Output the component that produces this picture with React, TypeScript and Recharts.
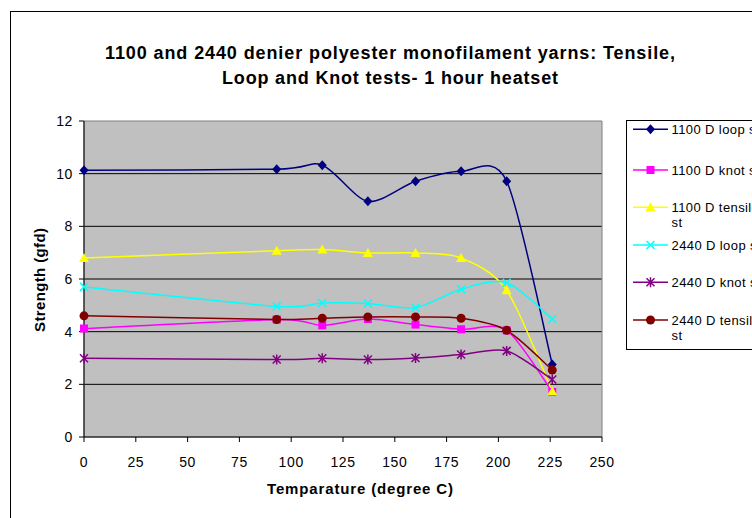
import React from "react";
import {
  CartesianGrid,
  Line,
  LineChart,
  ReferenceArea,
  XAxis,
  YAxis,
} from "recharts";

const temps = [0, 93, 115, 137, 160, 182, 204, 226];
const loop1100 = [10.13, 10.17, 10.32, 8.95, 9.71, 10.09, 9.71, 2.75];
const knot1100 = [4.12, 4.46, 4.24, 4.48, 4.27, 4.09, 4.05, 1.71];
const tensile1100 = [6.8, 7.07, 7.12, 6.99, 6.99, 6.8, 5.57, 1.74];
const loop2440 = [5.7, 4.96, 5.09, 5.07, 4.91, 5.61, 5.86, 4.48];
const knot2440 = [2.99, 2.94, 2.99, 2.94, 3.0, 3.13, 3.27, 2.18];
const tensile2440 = [4.6, 4.46, 4.51, 4.56, 4.56, 4.51, 4.05, 2.54];

const xTicks = [0, 25, 50, 75, 100, 125, 150, 175, 200, 225, 250];
const yTicks = [0, 2, 4, 6, 8, 10, 12];

const FONT = "'Liberation Sans', Arial, sans-serif";

type Shape = "diamond" | "square" | "triangle" | "cross" | "star" | "circle";

const series: { key: string; name: string[]; color: string; shape: Shape }[] = [
  { key: "loop1100", name: ["1100 D loop st"], color: "#000080", shape: "diamond" },
  { key: "knot1100", name: ["1100 D knot st"], color: "#FF00FF", shape: "square" },
  { key: "tensile1100", name: ["1100 D tensile", "st"], color: "#FFFF00", shape: "triangle" },
  { key: "loop2440", name: ["2440 D loop st"], color: "#00FFFF", shape: "cross" },
  { key: "knot2440", name: ["2440 D knot st"], color: "#800080", shape: "star" },
  { key: "tensile2440", name: ["2440 D tensile", "st"], color: "#800000", shape: "circle" },
];

const data = temps.map((t, i) => ({
  temp: t,
  loop1100: loop1100[i],
  knot1100: knot1100[i],
  tensile1100: tensile1100[i],
  loop2440: loop2440[i],
  knot2440: knot2440[i],
  tensile2440: tensile2440[i],
}));

// excel-like smoothed line (cardinal style bezier)
function smoothCurve(context: any) {
  let pts: number[][] = [];
  const k = 1 / 7;
  return {
    areaStart() {},
    areaEnd() {},
    lineStart() {
      pts = [];
    },
    point(x: number, y: number) {
      pts.push([+x, +y]);
    },
    lineEnd() {
      if (!pts.length) return;
      context.moveTo(pts[0][0], pts[0][1]);
      for (let i = 0; i < pts.length - 1; i++) {
        const p0 = pts[i - 1] || pts[i];
        const p1 = pts[i];
        const p2 = pts[i + 1];
        const p3 = pts[i + 2] || p2;
        context.bezierCurveTo(
          p1[0] + (p2[0] - p0[0]) * k,
          p1[1] + (p2[1] - p0[1]) * k,
          p2[0] - (p3[0] - p1[0]) * k,
          p2[1] - (p3[1] - p1[1]) * k,
          p2[0],
          p2[1]
        );
      }
    },
  };
}

function Marker({ cx, cy, shape, color }: { cx: number; cy: number; shape: Shape; color: string }) {
  if (shape === "diamond") {
    return <polygon points={`${cx},${cy - 5} ${cx + 4.5},${cy} ${cx},${cy + 5} ${cx - 4.5},${cy}`} fill={color} />;
  }
  if (shape === "square") {
    return <rect x={cx - 4} y={cy - 4} width={8} height={8} fill={color} />;
  }
  if (shape === "triangle") {
    return <polygon points={`${cx},${cy - 5} ${cx + 5},${cy + 4} ${cx - 5},${cy + 4}`} fill={color} />;
  }
  if (shape === "cross") {
    return (
      <path d={`M${cx - 4},${cy - 4}L${cx + 4},${cy + 4}M${cx - 4},${cy + 4}L${cx + 4},${cy - 4}`} stroke={color} strokeWidth={1.5} />
    );
  }
  if (shape === "star") {
    return (
      <path
        d={`M${cx - 4},${cy - 4}L${cx + 4},${cy + 4}M${cx - 4},${cy + 4}L${cx + 4},${cy - 4}M${cx},${cy - 5}L${cx},${cy + 5}`}
        stroke={color}
        strokeWidth={1.5}
      />
    );
  }
  return <circle cx={cx} cy={cy} r={4.5} fill={color} />;
}

const XTick = (p: any) => (
  <text x={p.x} y={p.y} dy={10} textAnchor="middle" fontSize={14} letterSpacing={0.6} fontFamily={FONT} fill="#000">
    {p.payload.value}
  </text>
);

const YTick = (p: any) => (
  <text x={p.x} y={p.y} dy={5} textAnchor="end" fontSize={14} letterSpacing={0.6} fontFamily={FONT} fill="#000">
    {p.payload.value}
  </text>
);

const legendY = [121.3, 162, 199.3, 237, 274.3, 312];

export default function App() {
  return (
    <div style={{ position: "fixed", left: 8, top: 8, width: 744, height: 510, overflow: "hidden", background: "#fff" }}>
      <LineChart
        width={744}
        height={510}
        data={data}
        margin={{ top: 113, right: 150, bottom: 51, left: 46 }}
        style={{ fontFamily: FONT }}
      >
        <rect x={2.5} y={3.5} width={900} height={700} fill="none" stroke="#000" strokeWidth={1} />
        <CartesianGrid
          vertical={false}
          horizontalValues={[2, 4, 6, 8, 10]}
          stroke="#000"
          strokeOpacity={1}
          fill="#C0C0C0"
          fillOpacity={1}
        />
        <ReferenceArea x1={0} x2={250} y1={0} y2={12} fill="none" stroke="#808080" strokeWidth={1} ifOverflow="visible" />
        <XAxis
          dataKey="temp"
          type="number"
          domain={[0, 250]}
          ticks={xTicks}
          height={30}
          tickSize={5}
          tickMargin={15}
          stroke="#000"
          tick={XTick}
          interval={0}
        />
        <YAxis
          type="number"
          domain={[0, 12]}
          ticks={yTicks}
          width={30}
          tickSize={5}
          tickMargin={6}
          stroke="#000"
          tick={YTick}
          interval={0}
        />
        {series.map((s) => (
          <Line
            key={s.key}
            dataKey={s.key}
            type={smoothCurve as any}
            stroke={s.color}
            strokeWidth={1.5}
            isAnimationActive={false}
            activeDot={false}
            dot={(p: any) => (
              <g key={`${s.key}-${p.index}`}>
                <Marker cx={p.cx} cy={p.cy} shape={s.shape} color={s.color} />
              </g>
            )}
          />
        ))}
        <text x={382} y={50.5} textAnchor="middle" fontSize={18} fontWeight="bold" fontFamily={FONT} fill="#000" textLength={570} lengthAdjust="spacing">
          1100 and 2440 denier polyester monofilament yarns: Tensile,
        </text>
        <text x={382} y={75.5} textAnchor="middle" fontSize={18} fontWeight="bold" fontFamily={FONT} fill="#000" textLength={336} lengthAdjust="spacing">
          Loop and Knot tests- 1 hour heatset
        </text>
        <text x={352} y={486} textAnchor="middle" fontSize={15} fontWeight="bold" fontFamily={FONT} fill="#000" textLength={186} lengthAdjust="spacing">
          Temparature (degree C)
        </text>
        <text
          x={37}
          y={272}
          textAnchor="middle"
          fontSize={15}
          fontWeight="bold"
          fontFamily={FONT}
          fill="#000"
          textLength={104}
          lengthAdjust="spacing"
          transform="rotate(-90, 37, 272)"
        >
          Strength (gfd)
        </text>
        <rect x={618.5} y={112.5} width={200} height={229} fill="#fff" stroke="#000" strokeWidth={1} />
        {series.map((s, i) => (
          <g key={`leg-${s.key}`}>
            <line x1={625} x2={660} y1={legendY[i]} y2={legendY[i]} stroke={s.color} strokeWidth={1.5} />
            <Marker cx={642.5} cy={legendY[i]} shape={s.shape} color={s.color} />
            {s.name.map((line, j) => (
              <text key={j} x={663.5} y={legendY[i] + 4.5 + j * 15} fontSize={13} letterSpacing={0.4} fontFamily={FONT} fill="#000">
                {line}
              </text>
            ))}
          </g>
        ))}
      </LineChart>
    </div>
  );
}
